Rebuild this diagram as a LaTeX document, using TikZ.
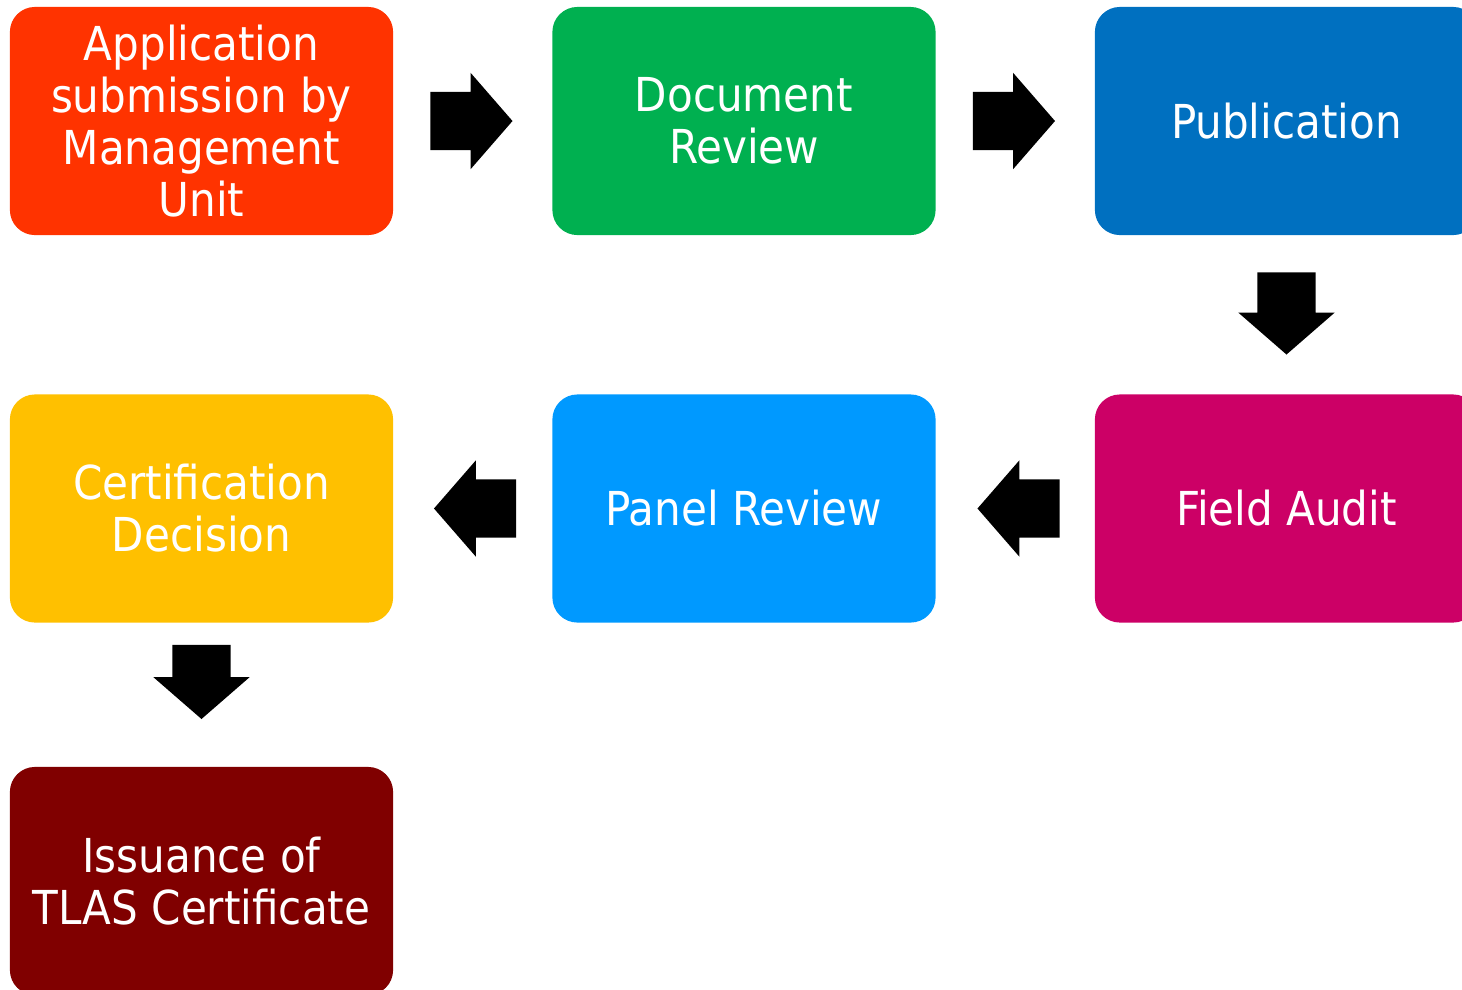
\documentclass[tikz,border=0pt]{standalone}
\usepackage{fontspec}
\setmainfont{DejaVu Sans Condensed}
\usetikzlibrary{shapes.arrows,calc}

\definecolor{appred}{HTML}{FF3300}
\definecolor{docgreen}{HTML}{00B050}
\definecolor{pubblue}{HTML}{0070C0}
\definecolor{fieldpink}{HTML}{CC0066}
\definecolor{panelblue}{HTML}{0099FF}
\definecolor{certyellow}{HTML}{FFC000}
\definecolor{issuered}{HTML}{800000}

\tikzset{
    stepbox/.style={rectangle, rounded corners=0.25cm, minimum width=3.83cm, minimum height=2.28cm,
        inner sep=0pt, align=center, text=white, font=\fontsize{13.3}{14.8}\selectfont},
    blockarrow/.style={single arrow, fill=black, inner xsep=0pt, inner ysep=0.285cm,
        minimum width=0pt, minimum height=0.82cm, single arrow head extend=0.19cm,
        single arrow tip angle=98, anchor=tail}
}

\begin{document}
\begin{tikzpicture}[x=0.01cm, y=-0.01cm]

        % Cornice
        \useasboundingbox (0,0) rectangle (1462,990);
        \clip (0,0) rectangle (1462,990);

        % Prima riga
        \node[stepbox, fill=appred] (app) at (201.5,121) {Application\\submission by\\Management\\Unit};
        \node[stepbox, fill=docgreen] (doc) at (744,121) {Document\\Review};
        \node[stepbox, fill=pubblue] (pub) at (1286.5,121) {Publication};

        % Seconda riga
        \node[stepbox, fill=certyellow] (cert) at (201.5,508.5) {Certification\\Decision};
        \node[stepbox, fill=panelblue] (panel) at (744,508.5) {Panel Review};
        \node[stepbox, fill=fieldpink] (field) at (1286.5,508.5) {Field Audit};

        % Terza riga
        \node[stepbox, fill=issuered] (issue) at (201.5,881) {Issuance of\\TLAS Certificate};

        % Frecce
        \node[blockarrow] (appdoc) at ($(app.east)!0.5!(doc.west)+(-43,0)$) {};
        \node[blockarrow] (docpub) at ($(doc.east)!0.5!(pub.west)+(-43,0)$) {};
        \node[blockarrow, rotate=-90] (pubfield) at ($(pub.south)!0.5!(field.north)+(0,-43)$) {};
        \node[blockarrow, rotate=180] (fieldpanel) at ($(field.west)!0.5!(panel.east)+(45,0)$) {};
        \node[blockarrow, rotate=180] (panelcert) at ($(panel.west)!0.5!(cert.east)+(44,0)$) {};
        \node[blockarrow, rotate=-90, minimum height=0.74cm] (certissue) at ($(cert.south)!0.5!(issue.north)+(0,-50.5)$) {};

\end{tikzpicture}
\end{document}
